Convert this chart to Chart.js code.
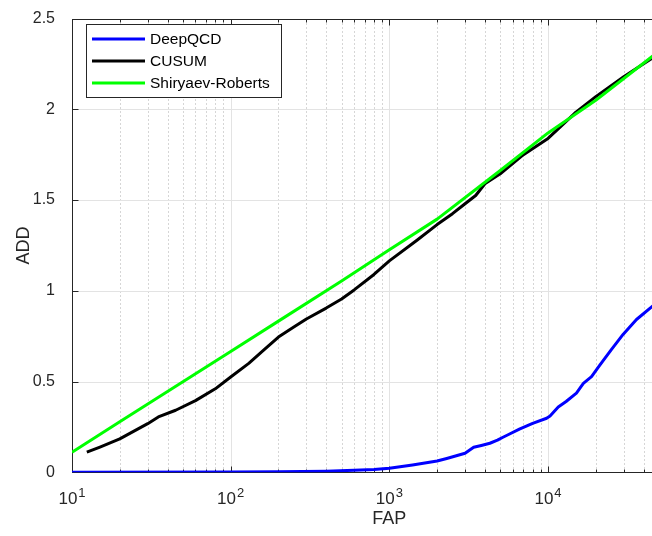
<!DOCTYPE html>
<html>
<head>
<meta charset="utf-8">
<script src="https://cdn.jsdelivr.net/npm/chart.js@4/dist/chart.umd.min.js"></script>
<style>
  html, body { margin: 0; padding: 0; overflow: hidden; background: #ffffff; }
  canvas { display: block; }
</style>
</head>
<body>
<canvas id="c" width="716" height="536"></canvas>
<script>
// Detection delay (ADD) against false-alarm period (FAP)
const deepFap = [10, 100, 200, 400, 600, 800, 1000, 1400, 2000, 2300, 3000, 3400, 3800, 4300, 4800, 5200, 5600, 6600, 8000, 9800, 10300, 11600, 13000, 15100, 16700, 18800, 21200, 25000, 29800, 36100, 45000, 50000];
const deepAdd = [0, 0.001, 0.003, 0.006, 0.011, 0.016, 0.022, 0.04, 0.062, 0.076, 0.105, 0.138, 0.148, 0.16, 0.177, 0.193, 0.207, 0.238, 0.27, 0.298, 0.31, 0.36, 0.39, 0.436, 0.49, 0.527, 0.59, 0.675, 0.761, 0.842, 0.912, 0.945];

const cusumFap = [12.4, 15, 20, 30, 35, 45, 60, 80, 100, 130, 160, 200, 250, 300, 400, 500, 600, 800, 1000, 1500, 2000, 2500, 3000, 3500, 4000, 5000, 7000, 10000, 12000, 15000, 20000, 30000, 45000, 50000];
const cusumAdd = [0.111, 0.139, 0.184, 0.268, 0.305, 0.342, 0.395, 0.46, 0.525, 0.6, 0.67, 0.745, 0.8, 0.845, 0.905, 0.955, 1.005, 1.09, 1.165, 1.28, 1.365, 1.425, 1.48, 1.525, 1.59, 1.645, 1.75, 1.84, 1.905, 1.985, 2.07, 2.18, 2.28, 2.31];

const srFap = [10, 20, 50, 100, 200, 500, 1000, 2000, 5000, 10000, 20000, 50000];
const srAdd = [0.111, 0.278, 0.499, 0.666, 0.833, 1.054, 1.226, 1.395, 1.663, 1.87, 2.05, 2.32];

const seriesNames = ['DeepQCD', 'CUSUM', 'Shiryaev-Roberts'];
const seriesColors = ['#0000ff', '#000000', '#00ff00'];
const yTicks = [0, 0.5, 1, 1.5, 2, 2.5];
const xDecades = [1, 2, 3, 4, 5];

const FONT = "'Liberation Sans', Arial, Helvetica, sans-serif";
const AXIS = '#262626';
Chart.defaults.font.family = FONT;

const toPoints = (xs, ys) => xs.map((v, i) => ({ x: v, y: ys[i] }));
const isPow10 = v => Math.abs(Math.log10(v) - Math.round(Math.log10(v))) < 1e-9;

function xTickValues() {
  const vals = [];
  for (const e of xDecades.slice(0, -1)) {
    for (let m = 1; m <= 9; m++) vals.push(m * Math.pow(10, e));
  }
  vals.push(Math.pow(10, xDecades[xDecades.length - 1]));
  return vals;
}

const crisp = p => Math.round(p) + 0.5;

// Grid, axis box and inward tick marks, drawn beneath the curves
const axesBox = {
  id: 'axesBox',
  beforeDatasetsDraw(chart) {
    const { ctx, chartArea: a, scales: { x, y } } = chart;
    const L = crisp(a.left), R = crisp(a.right), T = crisp(a.top), B = crisp(a.bottom);
    ctx.save();
    ctx.lineWidth = 1;

    // minor x grid (dotted)
    ctx.strokeStyle = 'rgba(38,38,38,0.38)';
    ctx.setLineDash([1, 3]);
    for (const v of xTickValues()) {
      if (isPow10(v)) continue;
      const px = crisp(x.getPixelForValue(v));
      ctx.beginPath(); ctx.moveTo(px, T); ctx.lineTo(px, B); ctx.stroke();
    }
    ctx.setLineDash([]);

    // major grid
    ctx.strokeStyle = '#e3e3e3';
    for (const v of xTickValues()) {
      if (!isPow10(v)) continue;
      const px = crisp(x.getPixelForValue(v));
      ctx.beginPath(); ctx.moveTo(px, T); ctx.lineTo(px, B); ctx.stroke();
    }
    for (const v of yTicks) {
      const py = crisp(y.getPixelForValue(v));
      ctx.beginPath(); ctx.moveTo(L, py); ctx.lineTo(R, py); ctx.stroke();
    }

    // axis box
    ctx.strokeStyle = AXIS;
    ctx.strokeRect(L, T, R - L, B - T);

    // tick marks pointing inward
    for (const v of xTickValues()) {
      const px = crisp(x.getPixelForValue(v));
      const len = isPow10(v) ? 6 : 3;
      ctx.beginPath();
      ctx.moveTo(px, B); ctx.lineTo(px, B - len);
      ctx.moveTo(px, T); ctx.lineTo(px, T + len);
      ctx.stroke();
    }
    for (const v of yTicks) {
      const py = crisp(y.getPixelForValue(v));
      ctx.beginPath();
      ctx.moveTo(L, py); ctx.lineTo(L + 6, py);
      ctx.moveTo(R, py); ctx.lineTo(R - 6, py);
      ctx.stroke();
    }
    ctx.restore();
  },
  afterDraw(chart) {
    const { ctx, scales: { x } } = chart;
    ctx.save();
    // power-of-ten labels on the x axis
    ctx.fillStyle = AXIS;
    ctx.textBaseline = 'alphabetic';
    ctx.textAlign = 'left';
    for (const e of xDecades) {
      const px = x.getPixelForValue(Math.pow(10, e));
      ctx.font = '17px ' + FONT;
      const wb = ctx.measureText('10').width;
      ctx.font = '13px ' + FONT;
      const we = ctx.measureText(String(e)).width;
      const start = px - (wb + 1 + we) / 2;
      ctx.font = '17px ' + FONT;
      ctx.fillText('10', start, 504);
      ctx.font = '13px ' + FONT;
      ctx.fillText(String(e), start + wb + 1, 496.5);
    }

    // legend box in the upper-left corner of the axes
    const bx = 86.5, by = 24.5, bw = 195, bh = 73;
    ctx.fillStyle = '#ffffff';
    ctx.fillRect(bx, by, bw, bh);
    ctx.strokeStyle = AXIS;
    ctx.lineWidth = 1;
    ctx.strokeRect(bx, by, bw, bh);
    const rows = [39, 61, 83];
    chart.data.datasets.forEach((ds, i) => {
      const ry = rows[i];
      ctx.strokeStyle = ds.borderColor;
      ctx.lineWidth = 3;
      ctx.beginPath(); ctx.moveTo(92, ry); ctx.lineTo(145, ry); ctx.stroke();
      ctx.fillStyle = '#000000';
      ctx.font = '15.5px ' + FONT;
      ctx.textBaseline = 'middle';
      ctx.fillText(ds.label, 150, ry + 0.5);
    });
    ctx.restore();
  }
};

new Chart(document.getElementById('c'), {
  type: 'line',
  data: {
    datasets: [
      { label: seriesNames[0], data: toPoints(deepFap, deepAdd), borderColor: seriesColors[0], order: 2 },
      { label: seriesNames[1], data: toPoints(cusumFap, cusumAdd), borderColor: seriesColors[1], order: 1 },
      { label: seriesNames[2], data: toPoints(srFap, srAdd), borderColor: seriesColors[2], order: 0 }
    ]
  },
  options: {
    responsive: false,
    animation: false,
    layout: { padding: { left: 0, top: 10, right: 9.3, bottom: 0 } },
    elements: {
      line: { borderWidth: 3, tension: 0, fill: false, borderJoinStyle: 'round', borderCapStyle: 'butt' },
      point: { radius: 0, hoverRadius: 0 }
    },
    plugins: { legend: { display: false }, tooltip: { enabled: false } },
    scales: {
      x: {
        type: 'logarithmic',
        min: 10,
        max: 100000,
        grid: { display: false },
        border: { display: false },
        ticks: { display: false },
        title: { display: true, text: 'FAP', color: AXIS, font: { size: 18 }, padding: { top: 0, bottom: 6 } },
        afterFit: s => { s.height = 63.7; }
      },
      y: {
        min: 0,
        max: 2.5,
        grid: { display: false },
        border: { display: false },
        ticks: { stepSize: 0.5, padding: 9, color: AXIS, font: { size: 16 }, callback: v => String(v) },
        title: { display: true, text: 'ADD', color: AXIS, font: { size: 18 }, padding: { top: 13, bottom: 0 } },
        afterFit: s => { s.width = 72; }
      }
    }
  },
  plugins: [axesBox]
});
</script>
</body>
</html>
